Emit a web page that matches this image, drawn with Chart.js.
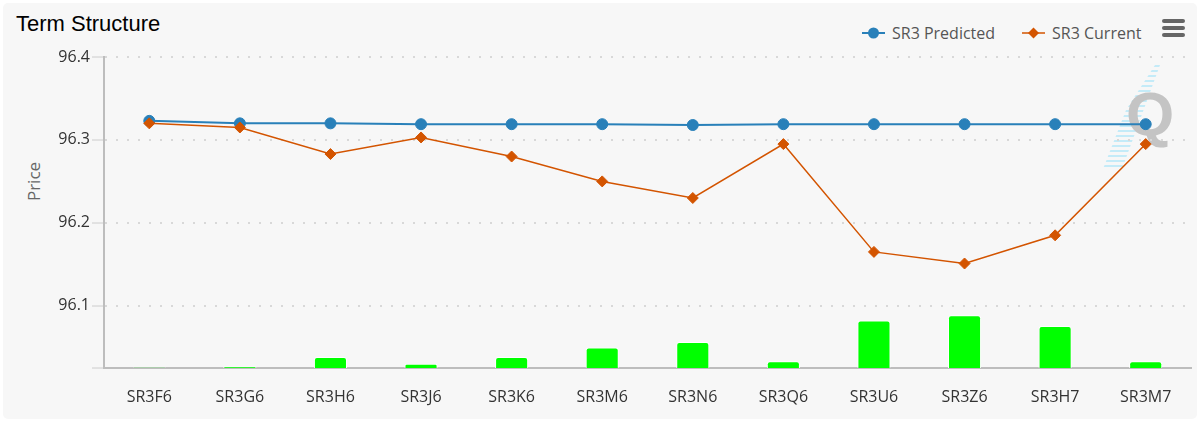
<!DOCTYPE html>
<html>
<head>
<meta charset="utf-8">
<script src="https://cdn.jsdelivr.net/npm/chart.js@4.4.1/dist/chart.umd.min.js"></script>
<style>
  html, body { margin: 0; padding: 0; background: #ffffff; }
  body { width: 1200px; height: 423px; position: relative; overflow: hidden; font-family: 'Open Sans', sans-serif; }
  .card { position: absolute; left: 3px; top: 3px; width: 1194px; height: 416px; background: #f7f7f7; border-radius: 5px; }
  .title { position: absolute; left: 16px; top: 11px; font: 22px 'Liberation Sans', Arial, sans-serif; color: #000; }
  .legend { position: absolute; top: 22px; font-size: 16px; color: #555; display: flex; align-items: center; }
  .legend svg { margin-right: 7px; }
  .menu { position: absolute; left: 1162px; width: 23px; height: 3.5px; background: #666; border-radius: 2px; }
  .ylabel { position: absolute; left: 13px; top: 170px; width: 40px; text-align: center; font-size: 17px; color: #666; transform: rotate(-90deg); }
  .stripes { position: absolute; left: 1100px; top: 65px; width: 60px; height: 104px;
    background: repeating-linear-gradient(to bottom, #c4ebf8 0 2px, transparent 2px 5px);
    clip-path: polygon(55px 0, 60px 0, 22px 104px, 3px 104px, 26px 45px); }
  .logo { position: absolute; left: 1126px; top: 78px; font: bold 62px 'Liberation Sans', Arial, sans-serif; color: #c4c4c4; }
  #wrap { position: absolute; left: 0; top: 0; width: 1200px; height: 423px; }
</style>
</head>
<body>
<div class="card"></div>
<div class="stripes"></div>
<div class="logo">Q</div>
<div class="title">Term Structure</div>
<div class="legend" style="left:862px">
  <svg width="23" height="12"><line x1="0" y1="6" x2="23" y2="6" stroke="#2980b9" stroke-width="2"/><circle cx="11.5" cy="6" r="5.5" fill="#2980b9"/></svg>SR3 Predicted
</div>
<div class="legend" style="left:1022px">
  <svg width="23" height="12"><line x1="0" y1="6" x2="23" y2="6" stroke="#d35400" stroke-width="1.5"/><polygon points="11.5,0.5 17,6 11.5,11.5 6,6" fill="#d35400"/></svg>SR3 Current
</div>
<div class="menu" style="top:19px"></div>
<div class="menu" style="top:26px"></div>
<div class="menu" style="top:33px"></div>
<div class="ylabel">Price</div>
<div id="wrap"><canvas id="termChart" width="1200" height="423"></canvas></div>
<script>
const contratos = ['SR3F6', 'SR3G6', 'SR3H6', 'SR3J6', 'SR3K6', 'SR3M6', 'SR3N6', 'SR3Q6', 'SR3U6', 'SR3Z6', 'SR3H7', 'SR3M7'];
const previsto = [96.323, 96.320, 96.320, 96.319, 96.319, 96.319, 96.318, 96.319, 96.319, 96.319, 96.319, 96.319];
const atual = [96.320, 96.315, 96.283, 96.303, 96.280, 96.250, 96.230, 96.295, 96.165, 96.151, 96.185, 96.295];
// diferenca em pontos-base (barras verdes)
const spreadBp = [0.2, 0.5, 3.5, 1.4, 3.5, 6.6, 8.4, 2.2, 15.3, 17.0, 13.5, 2.2];
const yTicks = [96.1, 96.2, 96.3, 96.4];
const yMin = 96.025;
const yMax = 96.4;

Chart.defaults.font.family = "'Open Sans', sans-serif";
Chart.defaults.font.size = 16;

const ctx = document.getElementById('termChart').getContext('2d');
new Chart(ctx, {
    data: {
        labels: contratos,
        datasets: [
            {
                type: 'line',
                label: 'SR3 Predicted',
                data: previsto,
                borderColor: '#2980b9',
                backgroundColor: '#2980b9',
                borderWidth: 2,
                pointRadius: 5.5,
                pointBorderWidth: 1,
                tension: 0,
                order: 1,
                yAxisID: 'y'
            },
            {
                type: 'line',
                label: 'SR3 Current',
                data: atual,
                borderColor: '#d35400',
                backgroundColor: '#d35400',
                borderWidth: 1.5,
                pointStyle: 'rectRot',
                pointRadius: 5.5,
                pointBorderWidth: 1,
                tension: 0,
                order: 0,
                yAxisID: 'y'
            },
            {
                type: 'bar',
                label: 'Spread',
                data: spreadBp,
                backgroundColor: '#00ff00',
                borderColor: '#ffffff',
                borderWidth: 1,
                borderRadius: 3,
                barPercentage: 0.365,
                categoryPercentage: 1,
                order: 2,
                yAxisID: 'y2'
            }
        ]
    },
    options: {
        responsive: false,
        animation: false,
        devicePixelRatio: 1,
        layout: { padding: { top: 57, right: 9, bottom: 15, left: 0 } },
        plugins: {
            legend: { display: false },
            title: { display: false },
            tooltip: { enabled: false }
        },
        scales: {
            x: {
                grid: { display: false },
                border: { display: true, color: '#bdbdbd', width: 2 },
                ticks: { color: '#333', padding: 12, maxRotation: 0 },
                afterFit: function(scale) { scale.height = 40; }
            },
            y: {
                min: yMin,
                max: yMax,
                afterBuildTicks: function(scale) {
                    scale.ticks = [yMin].concat(yTicks).map(v => ({ value: v }));
                },
                afterFit: function(scale) { scale.width = 104; },
                grid: {
                    color: '#d8d8d8',
                    lineWidth: 2,
                    tickLength: 12,
                    tickWidth: 1,
                    tickColor: '#cccccc'
                },
                border: { display: true, color: '#bdbdbd', width: 2, dash: [2, 9] },
                ticks: {
                    color: '#333',
                    padding: 2,
                    callback: function(value) {
                        return yTicks.includes(value) ? value.toFixed(1) : '';
                    }
                }
            },
            y2: {
                display: false,
                min: 0,
                max: 100
            }
        }
    }
});
</script>
</body>
</html>
